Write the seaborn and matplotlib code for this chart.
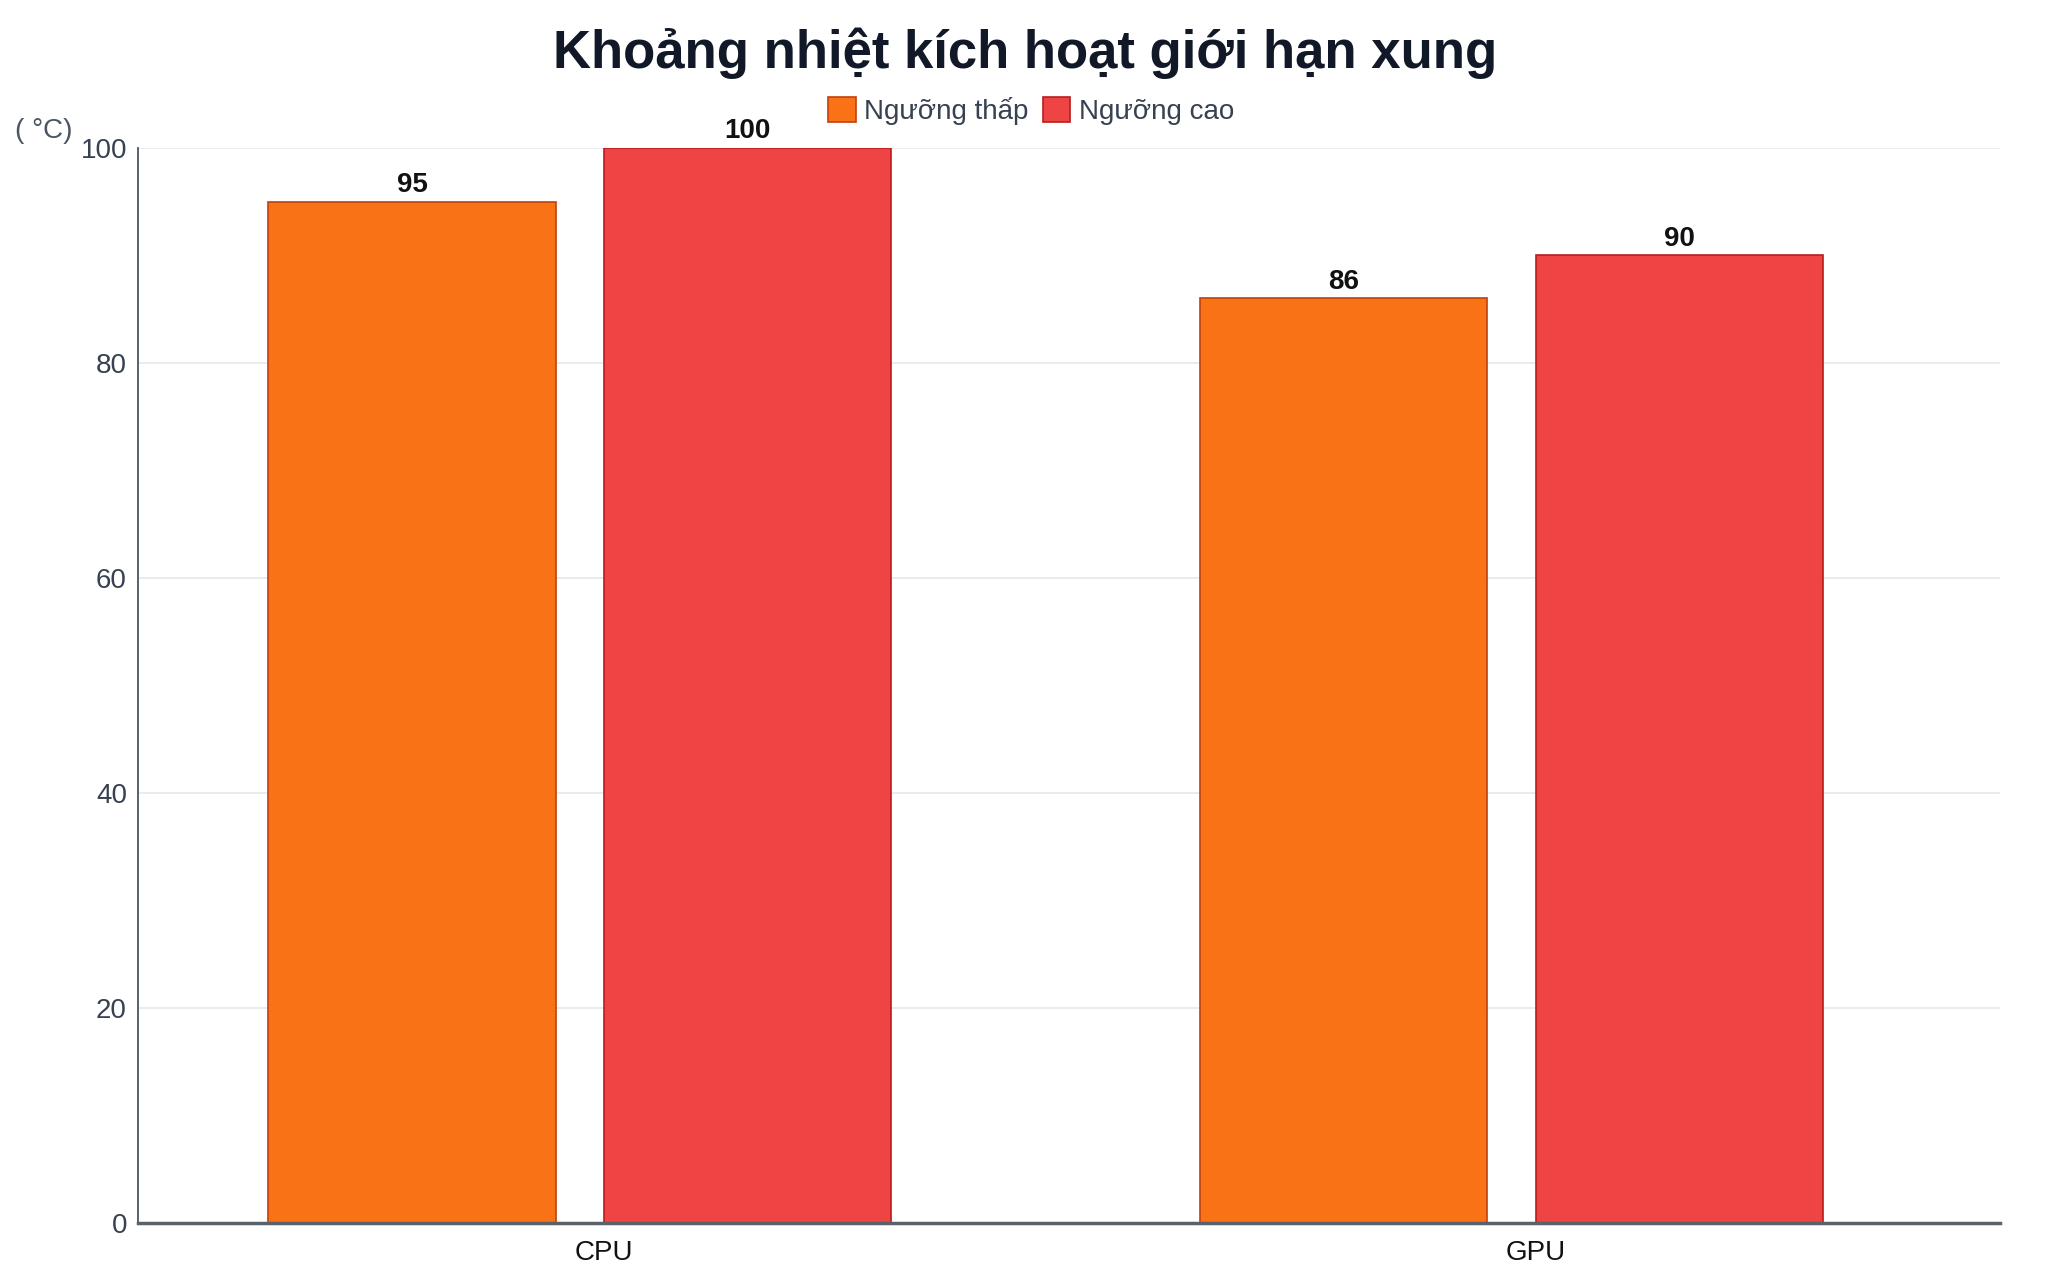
import matplotlib
matplotlib.use('Agg')
import matplotlib.pyplot as plt
from matplotlib.patches import Patch
import seaborn as sns
import pandas as pd

# data
categories = ['CPU', 'GPU']
series_names = ['Ngưỡng thấp', 'Ngưỡng cao']
nguong_thap = [95, 86]
nguong_cao = [100, 90]
y_ticks = [0, 20, 40, 60, 80, 100]

title_text = 'Khoảng nhiệt kích hoạt giới hạn xung'
unit_text = '( °C)'

colors = ['#f97316', '#ef4444']
edges = ['#c2410c', '#b91c1c']

df = pd.DataFrame({
    'cat': categories * 2,
    'series': [series_names[0]] * 2 + [series_names[1]] * 2,
    'value': nguong_thap + nguong_cao,
})

sns.set_style('white')
plt.rcParams['font.family'] = ['Liberation Sans', 'DejaVu Sans']

fig = plt.figure(figsize=(20.48, 12.8), dpi=100)
ax = fig.add_axes([0.0674, 0.0445, 0.9093, 0.84])

sns.barplot(data=df, x='cat', y='value', hue='series', hue_order=series_names,
            palette=colors, width=0.72, gap=0.144, ax=ax, legend=False,
            saturation=1, linewidth=1.2)

for cont, ec in zip(ax.containers, edges):
    for b in cont:
        b.set_edgecolor(ec)
    ax.bar_label(cont, fontsize=20, fontweight='bold', color='#111111', padding=2.5)

ax.set_ylim(0, 100)
ax.set_xlim(-0.474, 1.5245)
ax.set_yticks(y_ticks)
ax.set_xticks([0.026, 1.026])
ax.set_xticklabels(categories)
ax.set_xlabel('')
ax.set_ylabel('')

ax.grid(axis='y', color='#e5e7eb', linewidth=1.2)
ax.set_axisbelow(True)
for s in ['top', 'right']:
    ax.spines[s].set_visible(False)
ax.spines['left'].set_color('#4b5563')
ax.spines['left'].set_linewidth(1.3)
ax.spines['bottom'].set_color('#5b616b')
ax.spines['bottom'].set_linewidth(2.5)

ax.tick_params(axis='y', length=0, pad=8, labelsize=20, labelcolor='#374151')
ax.tick_params(axis='x', length=0, pad=12, labelsize=20, labelcolor='#111111')

fig.text(0.5005, 1 - 68 / 1280, title_text, ha='center', va='baseline',
         fontsize=38, fontweight='bold', color='#111827')
fig.text(15 / 2048, 1 - 131 / 1280, unit_text, ha='left', va='center',
         fontsize=20, color='#4b5563')

handles = [Patch(facecolor=c, edgecolor=e, linewidth=1.2) for c, e in zip(colors, edges)]
fig.legend(handles, series_names, loc='center', bbox_to_anchor=(1031 / 2048, 1 - 111 / 1280),
           ncol=2, frameon=False, fontsize=20, handlelength=1.0, handleheight=1.0,
           handletextpad=0.3, columnspacing=0.5, labelcolor='#374151')

fig.savefig('out.png', dpi=100)
